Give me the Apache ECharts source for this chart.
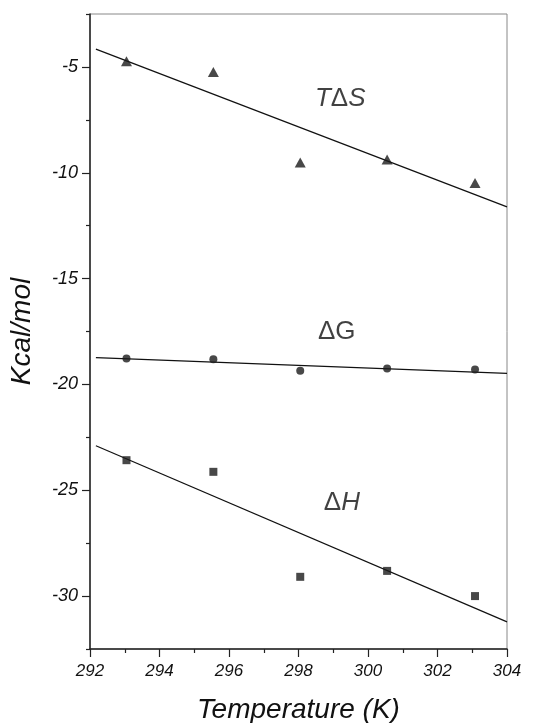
<!DOCTYPE html>
<html>
<head>
<meta charset="utf-8">
<script src="https://cdn.jsdelivr.net/npm/echarts@6/dist/echarts.min.js"></script>
<style>
html,body{margin:0;padding:0;background:#fff;}
#chart{width:545px;height:723px;}
</style>
</head>
<body>
<div id="chart"></div>
<script>
// Data
var temps = [293.05, 295.55, 298.05, 300.55, 303.08];
var tdsValues = [-4.73, -5.24, -9.52, -9.37, -10.48];
var dgValues = [-18.77, -18.81, -19.36, -19.25, -19.30];
var dhValues = [-23.58, -24.13, -29.09, -28.81, -30.0];

var fitX = [292.17, 304];
var tdsFit = [-4.16, -11.61];
var dgFit = [-18.73, -19.48];
var dhFit = [-22.9, -31.22];

var xTicks = [292, 294, 296, 298, 300, 302, 304];
var yMajorTicks = [-30, -25, -20, -15, -10, -5];
var yMinorTicks = [-32.5, -27.5, -22.5, -17.5, -12.5, -7.5, -2.5];

var annoX = [299.2, 299.1, 299.25];
var annoY = [-6.5, -17.5, -25.6];
var annoText = ['{i|T}{n|\u0394}{i|S}', '{n|\u0394G}', '{n|\u0394}{i|H}'];

function pairs(xs, ys) { return xs.map(function (x, i) { return [x, ys[i]]; }); }

var FONT = 'Liberation Sans, Arial, sans-serif';
var chart = echarts.init(document.getElementById('chart'), null, {renderer: 'canvas'});

var option = {
  backgroundColor: '#fff',
  animation: false,
  grid: {left: 90, right: 38, top: 14, bottom: 74, show: true, borderColor: '#888', borderWidth: 1,
    backgroundColor: 'transparent', containLabel: false, outerBoundsMode: 'none'},
  xAxis: {
    type: 'value', min: 292, max: 304, interval: 2,
    name: 'Temperature (K)', nameLocation: 'middle', nameGap: 47,
    nameTextStyle: {fontFamily: FONT, fontStyle: 'italic', fontSize: 28, color: '#111'},
    axisLine: {show: true, lineStyle: {color: '#222', width: 1.5}},
    axisTick: {show: true, inside: false, length: 8, lineStyle: {color: '#222', width: 1.2}},
    minorTick: {show: true, splitNumber: 2, length: 4, lineStyle: {color: '#222', width: 1.2}},
    splitLine: {show: false},
    axisLabel: {margin: 14, fontFamily: FONT, fontStyle: 'italic', fontSize: 17, color: '#111',
      formatter: function (v) { return String(v); }}
  },
  yAxis: [{
    type: 'value', min: -32.5, max: -2.5,
    name: 'Kcal/mol', nameLocation: 'middle', nameGap: 54, nameRotate: 90,
    nameTextStyle: {fontFamily: FONT, fontStyle: 'italic', fontSize: 28, color: '#111'},
    axisLine: {show: true, lineStyle: {color: '#222', width: 1.5}},
    axisTick: {show: true, inside: false, length: 8, customValues: yMajorTicks, lineStyle: {color: '#222', width: 1.2}},
    splitLine: {show: false},
    axisLabel: {margin: 12, customValues: yMajorTicks, fontFamily: FONT, fontStyle: 'italic', fontSize: 18, color: '#111',
      formatter: function (v) { return String(v); }}
  }, {
    type: 'value', min: -32.5, max: -2.5, position: 'left', offset: 0,
    axisLine: {show: false},
    axisTick: {show: true, inside: false, length: 4, customValues: yMinorTicks, lineStyle: {color: '#222', width: 1.2}},
    axisLabel: {show: false},
    splitLine: {show: false}
  }],
  series: [
    {type: 'line', data: pairs(fitX, tdsFit), symbol: 'none', lineStyle: {color: '#111', width: 1.2}, z: 2},
    {type: 'line', data: pairs(fitX, dgFit), symbol: 'none', lineStyle: {color: '#111', width: 1.2}, z: 2},
    {type: 'line', data: pairs(fitX, dhFit), symbol: 'none', lineStyle: {color: '#111', width: 1.2}, z: 2},
    {type: 'scatter', data: pairs(temps, tdsValues), symbol: 'triangle', symbolSize: [11, 10], itemStyle: {color: '#1a1a1a'}, z: 3},
    {type: 'scatter', data: pairs(temps, dgValues), symbol: 'circle', symbolSize: 8, itemStyle: {color: '#1a1a1a'}, z: 3},
    {type: 'scatter', data: pairs(temps, dhValues), symbol: 'rect', symbolSize: 8, itemStyle: {color: '#1a1a1a'}, z: 3},
    {type: 'scatter', symbolSize: 0, silent: true, z: 4,
      data: annoX.map(function (x, i) { return {value: [x, annoY[i]], label: {formatter: annoText[i]}}; }),
      label: {show: true, position: 'inside', color: '#111',
        rich: {
          i: {fontFamily: FONT, fontStyle: 'italic', fontSize: 26, color: '#111'},
          n: {fontFamily: FONT, fontStyle: 'normal', fontSize: 26, color: '#111'}
        }}
    }
  ]
};
chart.setOption(option);
</script>
</body>
</html>
